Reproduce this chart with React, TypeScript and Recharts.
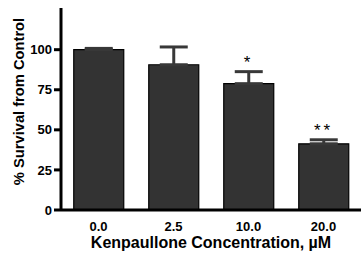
import React from 'react';
import { BarChart, Bar, XAxis, YAxis, ErrorBar, ReferenceDot, Label } from 'recharts';

const concentrations = ['0.0', '2.5', '10.0', '20.0'];
const survival = [100, 90.6, 78.8, 41.3];
const upperError = [0.8, 11.1, 7.5, 2.5];
const significance = ['', '', '*', '**'];
const yTicks = [0, 25, 50, 75, 100];

const data = concentrations.map((c, i) => ({
    conc: c,
    survival: survival[i],
    err: [0, upperError[i]],
}));

const font = 'Arial, "Liberation Sans", Helvetica, sans-serif';

export default function App() {
    return (
        <div style={{ position: 'absolute', left: 0, top: 0, background: '#fff' }}>
            <BarChart
                width={364}
                height={256}
                data={data}
                margin={{ top: 8, right: 3, bottom: 0, left: 0 }}
                barCategoryGap="17%"
            >
                <XAxis
                    dataKey="conc"
                    height={46}
                    stroke="#000"
                    strokeWidth={3}
                    tickLine={false}
                    tickMargin={6}
                    tick={{ fill: '#000', fontSize: 13, fontWeight: 'bold', fontFamily: font }}
                >
                    <Label
                        value="Kenpaullone Concentration, µM"
                        position="insideBottom"
                        offset={8}
                        style={{ fill: '#000', fontSize: 16, fontWeight: 'bold', fontFamily: font }}
                    />
                </XAxis>
                <YAxis
                    width={61}
                    domain={[0, 126]}
                    ticks={yTicks}
                    stroke="#000"
                    strokeWidth={3}
                    tickSize={7}
                    tickMargin={2}
                    tick={{ fill: '#000', fontSize: 13, fontWeight: 'bold', fontFamily: font }}
                >
                    <Label
                        value="% Survival from Control"
                        angle={-90}
                        position="center"
                        dx={-11.5}
                        dy={-7.5}
                        style={{ fill: '#000', fontSize: 14.7, fontWeight: 'bold', fontFamily: font, textAnchor: 'middle' }}
                    />
                </YAxis>
                <Bar dataKey="survival" fill="#333333" stroke="#000" strokeWidth={1.2} isAnimationActive={false}>
                    <ErrorBar dataKey="err" direction="y" width={14} stroke="#383838" strokeWidth={3} isAnimationActive={false} />
                </Bar>
                {concentrations.map((c, i) =>
                    significance[i] ? (
                        <ReferenceDot
                            key={c}
                            x={c}
                            y={survival[i] + upperError[i] + 6}
                            r={0}
                            stroke="none"
                            label={{
                                value: significance[i],
                                position: 'center',
                                fill: '#000',
                                fontSize: 17,
                                fontFamily: font,
                                letterSpacing: 3,
                            }}
                        />
                    ) : null
                )}
            </BarChart>
        </div>
    );
}
